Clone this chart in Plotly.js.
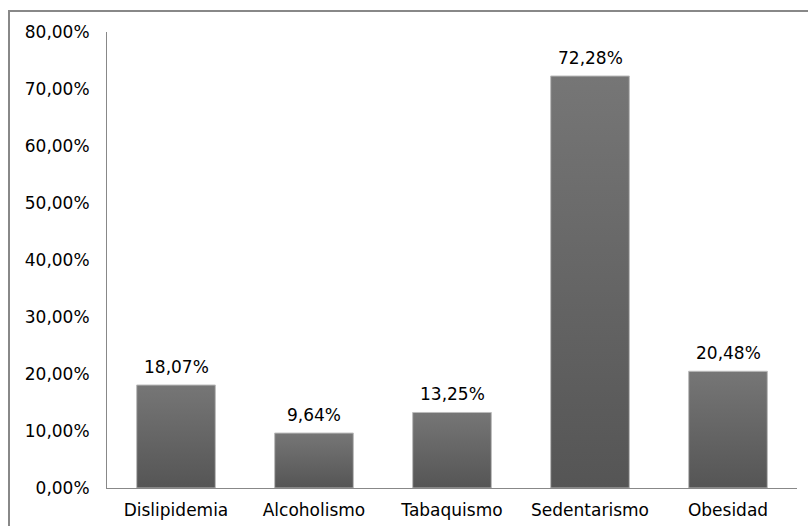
<!DOCTYPE html>
<html>
<head>
<meta charset="utf-8">
<script src="https://cdn.plot.ly/plotly-3.0.1.min.js"></script>
<style>
html,body{margin:0;padding:0;background:#fff;overflow:hidden;}
#wrap{position:relative;width:808px;height:526px;}
#chart{position:absolute;left:0;top:0;width:808px;height:526px;}
#frame{position:absolute;left:8px;top:10px;width:900px;height:600px;border-left:2px solid #888;border-top:2px solid #888;pointer-events:none;}
</style>
</head>
<body>
<div id="wrap"><div id="chart"></div><div id="frame"></div></div>
<script>
const categories = ["Dislipidemia", "Alcoholismo", "Tabaquismo", "Sedentarismo", "Obesidad"];
const values = [18.07, 9.64, 13.25, 72.28, 20.48];
const yTicks = [0, 10, 20, 30, 40, 50, 60, 70, 80];

const fmt = v => v.toFixed(2).replace(".", ",") + "%";
const font = {family: "DejaVu Sans, Verdana, sans-serif", size: 17, color: "#000"};

const annotations = categories.map((c, i) => ({
  x: c, y: values[i], xref: "x", yref: "y",
  text: fmt(values[i]), showarrow: false,
  yanchor: "bottom", yshift: 6, font: font
}));

Plotly.newPlot("chart", [{
  type: "bar",
  x: categories,
  y: values,
  marker: {color: "#666666", line: {color: "#bcbcbc", width: 1}},
  hoverinfo: "none"
}], {
  width: 808, height: 526,
  margin: {l: 107, r: 11, t: 32, b: 38},
  paper_bgcolor: "#fff", plot_bgcolor: "#fff",
  bargap: 0.43,
  font: font,
  showlegend: false,
  annotations: annotations,
  xaxis: {
    showline: true, linecolor: "#888", linewidth: 1,
    showgrid: false, ticks: "", tickfont: font, ticklabelstandoff: 7
  },
  yaxis: {
    range: [0, 80], tickvals: yTicks, ticktext: yTicks.map(fmt),
    showline: true, linecolor: "#888", linewidth: 1,
    showgrid: false, zeroline: false, ticks: "", tickfont: font,
    ticklabelstandoff: 13
  }
}, {staticPlot: true}).then(gd => {
  const svg = gd.querySelector("svg.main-svg");
  const ns = "http://www.w3.org/2000/svg";
  let defs = svg.querySelector("defs");
  if (!defs) { defs = document.createElementNS(ns, "defs"); svg.insertBefore(defs, svg.firstChild); }
  const g = document.createElementNS(ns, "linearGradient");
  g.setAttribute("id", "barGrad");
  g.setAttribute("x1", "0"); g.setAttribute("y1", "0");
  g.setAttribute("x2", "0"); g.setAttribute("y2", "1");
  [["0", "#767676"], ["1", "#555555"]].forEach(([o, c]) => {
    const s = document.createElementNS(ns, "stop");
    s.setAttribute("offset", o); s.setAttribute("stop-color", c);
    g.appendChild(s);
  });
  defs.appendChild(g);
  gd.querySelectorAll(".bars .point path").forEach(p => { p.style.fill = "url(#barGrad)"; });
});
</script>
</body>
</html>
